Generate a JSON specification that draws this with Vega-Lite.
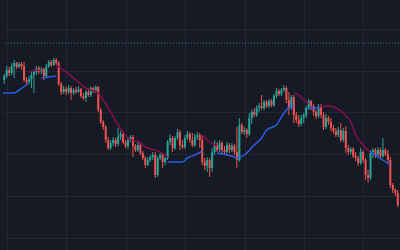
{
  "$schema": "https://vega.github.io/schema/vega-lite/v6.json",
  "autosize": {"type": "fit", "contains": "padding"},
  "width": 400,
  "height": 250,
  "padding": 0,
  "background": "#161a25",
  "config": {
    "view": {"stroke": null, "fill": "#161a25"},
    "scale": {"continuousPadding": 0},
    "axis": {"labels": false, "ticks": false, "domain": false, "title": null, "grid": true, "gridColor": "#232734", "gridWidth": 1}
  },
  "datasets": {
    "candles": [
      {"t":0,"o":170,"h":176,"l":166,"c":174},{"t":1,"o":174,"h":184,"l":172,"c":180},{"t":2,"o":180,"h":183,"l":174,"c":177},{"t":3,"o":177,"h":187,"l":175,"c":184},
      {"t":4,"o":184,"h":190,"l":172,"c":187},{"t":5,"o":187,"h":188,"l":181,"c":183},{"t":6,"o":183,"h":188,"l":182,"c":186},{"t":7,"o":186,"h":188,"l":180,"c":184},
      {"t":8,"o":184,"h":188,"l":168,"c":170},{"t":9,"o":170,"h":173,"l":166,"c":168},{"t":10,"o":168,"h":174,"l":166,"c":171},{"t":11,"o":171,"h":178,"l":162,"c":175},
      {"t":12,"o":175,"h":180,"l":157,"c":178},{"t":13,"o":178,"h":184,"l":175,"c":182},{"t":14,"o":182,"h":184,"l":176,"c":178},{"t":15,"o":178,"h":183,"l":176,"c":181},
      {"t":16,"o":181,"h":182,"l":170,"c":174},{"t":17,"o":174,"h":186,"l":172,"c":184},{"t":18,"o":184,"h":190,"l":182,"c":188},{"t":19,"o":188,"h":190,"l":183,"c":185},
      {"t":20,"o":185,"h":192,"l":184,"c":190},{"t":21,"o":190,"h":192,"l":185,"c":187},{"t":22,"o":187,"h":189,"l":164,"c":166},{"t":23,"o":166,"h":168,"l":155,"c":158},
      {"t":24,"o":158,"h":164,"l":156,"c":161},{"t":25,"o":161,"h":163,"l":155,"c":158},{"t":26,"o":158,"h":165,"l":156,"c":162},{"t":27,"o":162,"h":164,"l":150,"c":157},
      {"t":28,"o":157,"h":162,"l":155,"c":160},{"t":29,"o":160,"h":163,"l":156,"c":158},{"t":30,"o":158,"h":164,"l":157,"c":161},{"t":31,"o":161,"h":162,"l":152,"c":154},
      {"t":32,"o":154,"h":157,"l":150,"c":152},{"t":33,"o":152,"h":160,"l":148,"c":158},{"t":34,"o":158,"h":160,"l":153,"c":155},{"t":35,"o":155,"h":164,"l":153,"c":162},
      {"t":36,"o":162,"h":163,"l":157,"c":159},{"t":37,"o":159,"h":165,"l":157,"c":163},{"t":38,"o":163,"h":164,"l":138,"c":140},{"t":39,"o":140,"h":142,"l":126,"c":128},
      {"t":40,"o":128,"h":130,"l":120,"c":123},{"t":41,"o":123,"h":125,"l":107,"c":110},{"t":42,"o":110,"h":113,"l":100,"c":102},{"t":43,"o":102,"h":110,"l":100,"c":107},
      {"t":44,"o":107,"h":113,"l":104,"c":110},{"t":45,"o":110,"h":112,"l":103,"c":106},{"t":46,"o":106,"h":122,"l":104,"c":113},{"t":47,"o":113,"h":119,"l":110,"c":116},
      {"t":48,"o":116,"h":118,"l":106,"c":108},{"t":49,"o":108,"h":110,"l":102,"c":104},{"t":50,"o":104,"h":112,"l":101,"c":110},{"t":51,"o":110,"h":115,"l":108,"c":113},
      {"t":52,"o":113,"h":115,"l":93,"c":104},{"t":53,"o":104,"h":106,"l":98,"c":100},{"t":54,"o":100,"h":108,"l":98,"c":105},{"t":55,"o":105,"h":107,"l":95,"c":97},
      {"t":56,"o":97,"h":99,"l":90,"c":92},{"t":57,"o":92,"h":94,"l":82,"c":85},{"t":58,"o":85,"h":93,"l":84,"c":90},{"t":59,"o":90,"h":95,"l":88,"c":93},
      {"t":60,"o":93,"h":98,"l":90,"c":95},{"t":61,"o":95,"h":98,"l":72,"c":75},{"t":62,"o":75,"h":94,"l":73,"c":92},{"t":63,"o":92,"h":97,"l":90,"c":95},
      {"t":64,"o":95,"h":97,"l":82,"c":88},{"t":65,"o":88,"h":93,"l":85,"c":92},{"t":66,"o":92,"h":110,"l":90,"c":108},{"t":67,"o":108,"h":116,"l":105,"c":112},
      {"t":68,"o":112,"h":114,"l":98,"c":102},{"t":69,"o":102,"h":114,"l":100,"c":112},{"t":70,"o":112,"h":121,"l":110,"c":118},{"t":71,"o":118,"h":120,"l":100,"c":105},
      {"t":72,"o":105,"h":110,"l":101,"c":103},{"t":73,"o":103,"h":115,"l":101,"c":112},{"t":74,"o":112,"h":119,"l":110,"c":116},{"t":75,"o":116,"h":118,"l":107,"c":110},
      {"t":76,"o":110,"h":117,"l":103,"c":105},{"t":77,"o":105,"h":116,"l":103,"c":113},{"t":78,"o":113,"h":118,"l":110,"c":115},{"t":79,"o":115,"h":117,"l":102,"c":110},
      {"t":80,"o":110,"h":115,"l":85,"c":88},{"t":81,"o":88,"h":92,"l":80,"c":84},{"t":82,"o":84,"h":93,"l":78,"c":90},{"t":83,"o":90,"h":92,"l":73,"c":82},
      {"t":84,"o":82,"h":102,"l":78,"c":98},{"t":85,"o":98,"h":110,"l":95,"c":105},{"t":86,"o":105,"h":108,"l":98,"c":100},{"t":87,"o":100,"h":110,"l":98,"c":107},
      {"t":88,"o":107,"h":109,"l":97,"c":100},{"t":89,"o":100,"h":104,"l":95,"c":98},{"t":90,"o":98,"h":108,"l":96,"c":105},{"t":91,"o":105,"h":107,"l":97,"c":100},
      {"t":92,"o":100,"h":107,"l":98,"c":104},{"t":93,"o":104,"h":106,"l":95,"c":98},{"t":94,"o":98,"h":123,"l":82,"c":90},{"t":95,"o":90,"h":132,"l":88,"c":125},
      {"t":96,"o":125,"h":127,"l":116,"c":118},{"t":97,"o":118,"h":123,"l":115,"c":120},{"t":98,"o":120,"h":122,"l":112,"c":116},{"t":99,"o":116,"h":137,"l":114,"c":132},
      {"t":100,"o":132,"h":140,"l":126,"c":138},{"t":101,"o":138,"h":142,"l":133,"c":135},{"t":102,"o":135,"h":145,"l":133,"c":142},{"t":103,"o":142,"h":147,"l":138,"c":144},
      {"t":104,"o":144,"h":155,"l":140,"c":142},{"t":105,"o":142,"h":150,"l":140,"c":148},{"t":106,"o":148,"h":150,"l":142,"c":144},{"t":107,"o":144,"h":151,"l":142,"c":149},
      {"t":108,"o":149,"h":151,"l":143,"c":145},{"t":109,"o":145,"h":156,"l":143,"c":154},{"t":110,"o":154,"h":162,"l":152,"c":159},{"t":111,"o":159,"h":161,"l":154,"c":156},
      {"t":112,"o":156,"h":162,"l":154,"c":160},{"t":113,"o":160,"h":165,"l":158,"c":162},{"t":114,"o":162,"h":164,"l":147,"c":150},{"t":115,"o":150,"h":158,"l":135,"c":142},
      {"t":116,"o":142,"h":155,"l":140,"c":153},{"t":117,"o":153,"h":155,"l":127,"c":135},{"t":118,"o":135,"h":138,"l":127,"c":130},{"t":119,"o":130,"h":135,"l":123,"c":126},
      {"t":120,"o":126,"h":135,"l":124,"c":132},{"t":121,"o":132,"h":137,"l":127,"c":135},{"t":122,"o":135,"h":144,"l":132,"c":142},{"t":123,"o":142,"h":151,"l":140,"c":149},
      {"t":124,"o":149,"h":150,"l":140,"c":144},{"t":125,"o":144,"h":146,"l":134,"c":138},{"t":126,"o":138,"h":140,"l":131,"c":134},{"t":127,"o":134,"h":146,"l":132,"c":144},
      {"t":128,"o":144,"h":146,"l":132,"c":135},{"t":129,"o":135,"h":138,"l":120,"c":123},{"t":130,"o":123,"h":136,"l":121,"c":132},{"t":131,"o":132,"h":134,"l":125,"c":128},
      {"t":132,"o":128,"h":132,"l":119,"c":122},{"t":133,"o":122,"h":125,"l":116,"c":119},{"t":134,"o":119,"h":122,"l":113,"c":115},{"t":135,"o":115,"h":123,"l":113,"c":120},
      {"t":136,"o":120,"h":127,"l":108,"c":110},{"t":137,"o":110,"h":122,"l":108,"c":119},{"t":138,"o":119,"h":124,"l":97,"c":102},{"t":139,"o":102,"h":105,"l":95,"c":98},
      {"t":140,"o":98,"h":103,"l":96,"c":101},{"t":141,"o":101,"h":103,"l":92,"c":94},{"t":142,"o":94,"h":98,"l":89,"c":92},{"t":143,"o":92,"h":94,"l":84,"c":87},
      {"t":144,"o":87,"h":102,"l":85,"c":98},{"t":145,"o":98,"h":100,"l":87,"c":90},{"t":146,"o":90,"h":92,"l":70,"c":75},{"t":147,"o":75,"h":80,"l":67,"c":72},
      {"t":148,"o":72,"h":100,"l":70,"c":98},{"t":149,"o":98,"h":102,"l":92,"c":100},{"t":150,"o":100,"h":102,"l":92,"c":95},{"t":151,"o":95,"h":103,"l":93,"c":100},
      {"t":152,"o":100,"h":102,"l":92,"c":94},{"t":153,"o":94,"h":112,"l":92,"c":100},{"t":154,"o":100,"h":102,"l":94,"c":96},{"t":155,"o":96,"h":100,"l":87,"c":90},
      {"t":156,"o":90,"h":93,"l":62,"c":65},{"t":157,"o":65,"h":67,"l":57,"c":60},{"t":158,"o":60,"h":62,"l":54,"c":57},{"t":159,"o":57,"h":60,"l":43,"c":45}
    ],
    "ma": [
      {"t":-0.5,"v":157,"trend":"up","seg":1},{"t":4,"v":157,"trend":"up","seg":1},{"t":6,"v":160,"trend":"up","seg":1},{"t":10,"v":167,"trend":"up","seg":1},
      {"t":10,"v":178,"trend":"down","seg":2},{"t":13,"v":180,"trend":"down","seg":2},{"t":15,"v":179,"trend":"down","seg":2},
      {"t":15,"v":172,"trend":"up","seg":3},{"t":21,"v":174,"trend":"up","seg":3},
      {"t":21,"v":185,"trend":"down","seg":4},{"t":25,"v":178,"trend":"down","seg":4},{"t":29,"v":170,"trend":"down","seg":4},{"t":33,"v":162,"trend":"down","seg":4},
      {"t":35,"v":160,"trend":"down","seg":4},{"t":37,"v":159,"trend":"down","seg":4},{"t":40,"v":150,"trend":"down","seg":4},{"t":43,"v":138,"trend":"down","seg":4},
      {"t":46,"v":125,"trend":"down","seg":4},{"t":49,"v":115,"trend":"down","seg":4},{"t":51,"v":110,"trend":"down","seg":4},{"t":54,"v":109,"trend":"down","seg":4},
      {"t":57,"v":103,"trend":"down","seg":4},{"t":61,"v":100,"trend":"down","seg":4},{"t":65,"v":95,"trend":"down","seg":4},{"t":66,"v":93,"trend":"down","seg":4},
      {"t":66,"v":88,"trend":"up","seg":5},{"t":72,"v":88,"trend":"up","seg":5},{"t":74,"v":92,"trend":"up","seg":5},{"t":77,"v":95,"trend":"up","seg":5},{"t":80,"v":99,"trend":"up","seg":5},
      {"t":80,"v":115,"trend":"down","seg":6},{"t":82,"v":110,"trend":"down","seg":6},{"t":85,"v":105,"trend":"down","seg":6},{"t":86,"v":104,"trend":"down","seg":6},
      {"t":86,"v":97,"trend":"up","seg":7},{"t":93,"v":93,"trend":"up","seg":7},{"t":94,"v":92,"trend":"up","seg":7},{"t":97,"v":95,"trend":"up","seg":7},
      {"t":101,"v":105,"trend":"up","seg":7},{"t":104,"v":112,"trend":"up","seg":7},{"t":106,"v":120,"trend":"up","seg":7},{"t":110,"v":125,"trend":"up","seg":7},
      {"t":112,"v":133,"trend":"up","seg":7},{"t":114,"v":140,"trend":"up","seg":7},{"t":117,"v":145,"trend":"up","seg":7},
      {"t":117,"v":157,"trend":"down","seg":8},{"t":119,"v":155,"trend":"down","seg":8},{"t":121,"v":150,"trend":"down","seg":8},{"t":123,"v":147,"trend":"down","seg":8},
      {"t":123,"v":142,"trend":"up","seg":9},{"t":127,"v":142,"trend":"up","seg":9},
      {"t":127,"v":143,"trend":"down","seg":10},{"t":131,"v":144,"trend":"down","seg":10},{"t":134,"v":142,"trend":"down","seg":10},{"t":137,"v":137,"trend":"down","seg":10},
      {"t":140,"v":128,"trend":"down","seg":10},{"t":142,"v":115,"trend":"down","seg":10},{"t":145,"v":105,"trend":"down","seg":10},{"t":148,"v":97,"trend":"down","seg":10},
      {"t":148,"v":98,"trend":"up","seg":11},{"t":151,"v":93,"trend":"up","seg":11},{"t":156,"v":85,"trend":"up","seg":11}
    ],
    "level": [{"v": 207}]
  },
  "encoding": {
    "x": {"field": "t", "type": "quantitative", "scale": {"domain": [-0.5, 159.5], "nice": false, "zero": false, "padding": 0},
          "axis": {"values": [1.1, 25.1, 49.1, 73.1, 97.1, 121.1, 145.1]}}
  },
  "layer": [
    {
      "data": {"name": "candles"},
      "mark": {"type": "rule", "strokeWidth": 1},
      "encoding": {
        "y": {"field": "l", "type": "quantitative", "scale": {"domain": [0, 250], "nice": false, "zero": false, "padding": 0},
              "axis": {"values": [242, 221.1, 200.2, 179.3, 158.4, 137.5, 116.6, 95.7, 74.8, 53.9, 33, 12.1]}},
        "y2": {"field": "h"},
        "color": {"condition": {"test": "datum.c >= datum.o", "value": "#26a69a"}, "value": "#ef5350"}
      }
    },
    {
      "data": {"name": "candles"},
      "mark": {"type": "bar", "size": 2},
      "encoding": {
        "y": {"field": "o", "type": "quantitative"},
        "y2": {"field": "c"},
        "color": {"condition": {"test": "datum.c >= datum.o", "value": "#26a69a"}, "value": "#ef5350"}
      }
    },
    {
      "data": {"name": "ma"},
      "mark": {"type": "line", "strokeWidth": 1.5, "interpolate": "monotone"},
      "encoding": {
        "y": {"field": "v", "type": "quantitative"},
        "detail": {"field": "seg", "type": "nominal"},
        "color": {"field": "trend", "type": "nominal", "scale": {"domain": ["up", "down"], "range": ["#2a5ee8", "#880e4f"]}, "legend": null}
      }
    },
    {
      "data": {"name": "level"},
      "mark": {"type": "rule", "strokeWidth": 1, "strokeDash": [1, 2], "color": "#4f7a80"},
      "encoding": {
        "y": {"field": "v", "type": "quantitative"},
        "x": null
      }
    }
  ]
}
